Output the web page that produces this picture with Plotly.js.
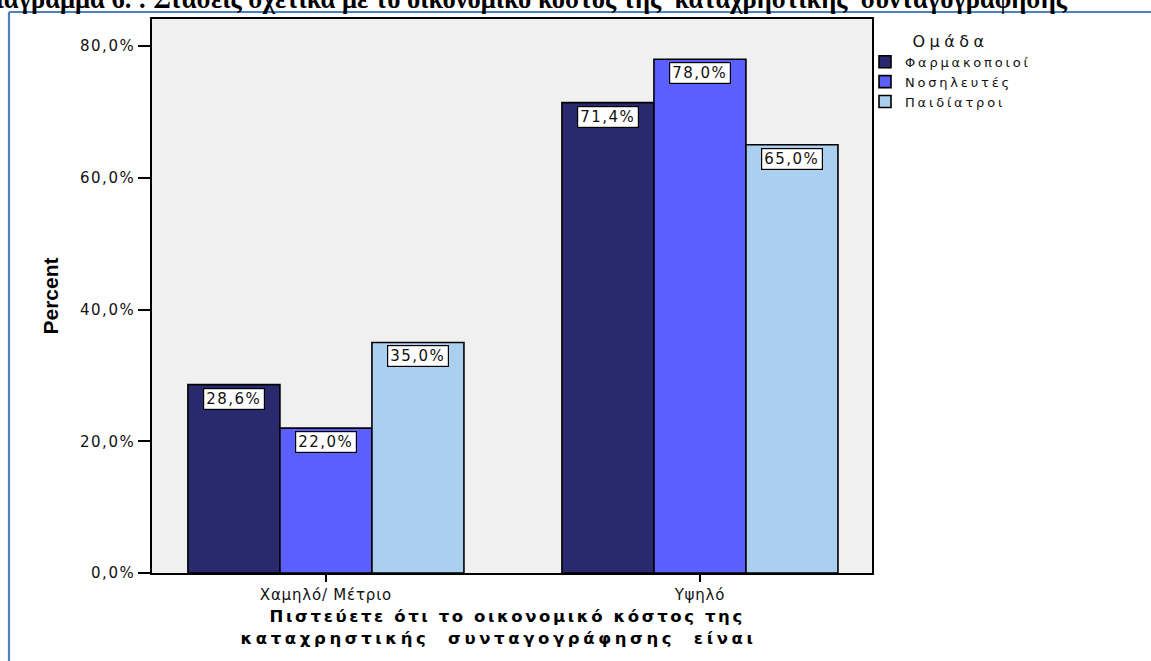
<!DOCTYPE html>
<html>
<head>
<meta charset="utf-8">
<script src="https://cdn.plot.ly/plotly-3.0.1.min.js"></script>
<style>
  html, body { margin: 0; padding: 0; background: #ffffff; }
  #chart { width: 1151px; height: 661px; }
  /* wide, airy lettering for the axis and legend texts
     (left unscoped so Plotly's text measuring sees the same spacing) */
  .ytick text { letter-spacing: 1.5px; }
  .xtick text { letter-spacing: 0.8px; }
  .legendtext { letter-spacing: 2.8px; }
  .legendtitletext { letter-spacing: 4.5px; }
  .annotation text { letter-spacing: 1.5px; }
  .annotation[data-index="6"] text { letter-spacing: 2.6px; }
  .annotation[data-index="7"] text { letter-spacing: 3.6px; }
</style>
</head>
<body>
<div id="chart"></div>
<script>
// Categories on the x axis
const categories = ['Χαμηλό/ Μέτριο', 'Υψηλό'];

// Group names (legend entries)
const groups = ['Φαρμακοποιοί', 'Νοσηλευτές', 'Παιδίατροι'];

// Percent per group, one value per category
const pharmacists = [28.6, 71.4];
const nurses = [22.0, 78.0];
const pediatricians = [35.0, 65.0];

// Y axis ticks (percent)
const yTicks = [0, 20, 40, 60, 80];

// X axis title, one entry per line
const xTitleLines = ['Πιστεύετε ότι το οικονομικό κόστος της', 'καταχρηστικής  συνταγογράφησης  είναι'];

const seriesValues = [pharmacists, nurses, pediatricians];
const seriesColors = ['#29296e', '#5b5fff', '#abcfee'];

const fmt = v => v.toFixed(1).replace('.', ',') + '%';

const SANS = 'DejaVu Sans, Verdana, sans-serif';

const traces = seriesValues.map((vals, i) => ({
  type: 'bar',
  name: groups[i],
  x: categories,
  y: vals,
  marker: { color: seriesColors[i], line: { color: '#000000', width: 1.6 } },
  hoverinfo: 'x+y+name'
}));

// Plot area in page pixels
const L = 152, R = 872, T = 19, B = 573, W = 1151, H = 661;
const px = p => (p - L) / (R - L);
const py = p => (B - p) / (B - T);

// Value boxes just under the top of each bar
const nGroups = seriesValues.length;
const barGap = 0.262;
const barW = (1 - barGap) / nGroups;
const annotations = [];
seriesValues.forEach((vals, i) => {
  vals.forEach((v, c) => {
    annotations.push({
      x: c + (i - (nGroups - 1) / 2) * barW,
      xref: 'x', yref: 'y',
      y: v,
      yanchor: 'top',
      yshift: -3,
      text: ' ' + fmt(v) + ' ',
      showarrow: false,
      bgcolor: '#ffffff',
      bordercolor: '#000000',
      borderwidth: 1.2,
      borderpad: 1,
      font: { family: SANS, size: 15, color: '#111111' }
    });
  });
});

// Two-line x axis title, set tight
const xTitleCenters = [507, 498];
const xTitleMids = [616.5, 638.5];
xTitleLines.forEach((line, k) => {
  annotations.push({
    x: px(xTitleCenters[k]), xref: 'paper', xanchor: 'center',
    y: py(xTitleMids[k]), yref: 'paper', yanchor: 'middle',
    text: '<b>' + line + '</b>',
    showarrow: false,
    font: { family: SANS, size: 16.5, color: '#000000' }
  });
});

// Page frame lines (left and top)
const shapes = [
  { type: 'line', xref: 'paper', yref: 'paper', x0: px(9), x1: px(9), y0: py(12), y1: py(H + 5),
    line: { color: '#4f81bd', width: 2.2 } },
  { type: 'line', xref: 'paper', yref: 'paper', x0: px(9), x1: px(W + 5), y0: py(12), y1: py(12),
    line: { color: '#4f81bd', width: 2.2 } }
];

const layout = {
  width: W, height: H,
  margin: { l: L, r: W - R, t: T, b: H - B, pad: 0 },
  paper_bgcolor: '#ffffff',
  plot_bgcolor: '#f0f0f0',
  separators: ',.',
  barmode: 'group',
  bargap: barGap,
  bargroupgap: 0,
  title: {
    text: 'Διάγραμμα 6. : Στάσεις σχετικά με το οικονομικό κόστος της  καταχρηστικής  συνταγογράφησης',
    xref: 'container', yref: 'container',
    x: 523 / W, xanchor: 'center',
    y: 1 - 8 / H, yanchor: 'bottom',
    font: { family: 'Liberation Serif, Times New Roman, serif', size: 26.5, color: '#000000', weight: 'bold' }
  },
  font: { family: SANS, color: '#111111' },
  xaxis: {
    type: 'category',
    range: [-0.465, 1.46],
    showline: true, linecolor: '#000000', linewidth: 1.6, mirror: true,
    ticks: 'outside', ticklen: 7, tickwidth: 1.6, tickcolor: '#000000',
    tickfont: { family: SANS, size: 15, color: '#111111' },
    showgrid: false, zeroline: false
  },
  yaxis: {
    range: [0, 84.1],
    tickvals: yTicks,
    ticktext: yTicks.map(fmt),
    showline: true, linecolor: '#000000', linewidth: 1.6, mirror: true,
    ticks: 'outside', ticklen: 12, tickwidth: 1.6, tickcolor: '#000000',
    tickfont: { family: SANS, size: 15, color: '#111111' },
    showgrid: false, zeroline: false,
    title: {
      text: '<b>Percent</b>',
      font: { family: 'Liberation Sans, Arial, sans-serif', size: 21, color: '#000000' },
      standoff: 16
    }
  },
  legend: {
    x: px(865), xanchor: 'left',
    y: py(26), yanchor: 'top',
    bgcolor: 'rgba(0,0,0,0)',
    font: { family: SANS, size: 13, color: '#111111' },
    title: { text: 'Ομάδα', side: 'top center', font: { family: SANS, size: 16, color: '#111111' } },
    tracegroupgap: 0,
    itemwidth: 30
  },
  showlegend: true,
  annotations: annotations,
  shapes: shapes
};

Plotly.newPlot('chart', traces, layout, { displayModeBar: false, responsive: false });
</script>
</body>
</html>
